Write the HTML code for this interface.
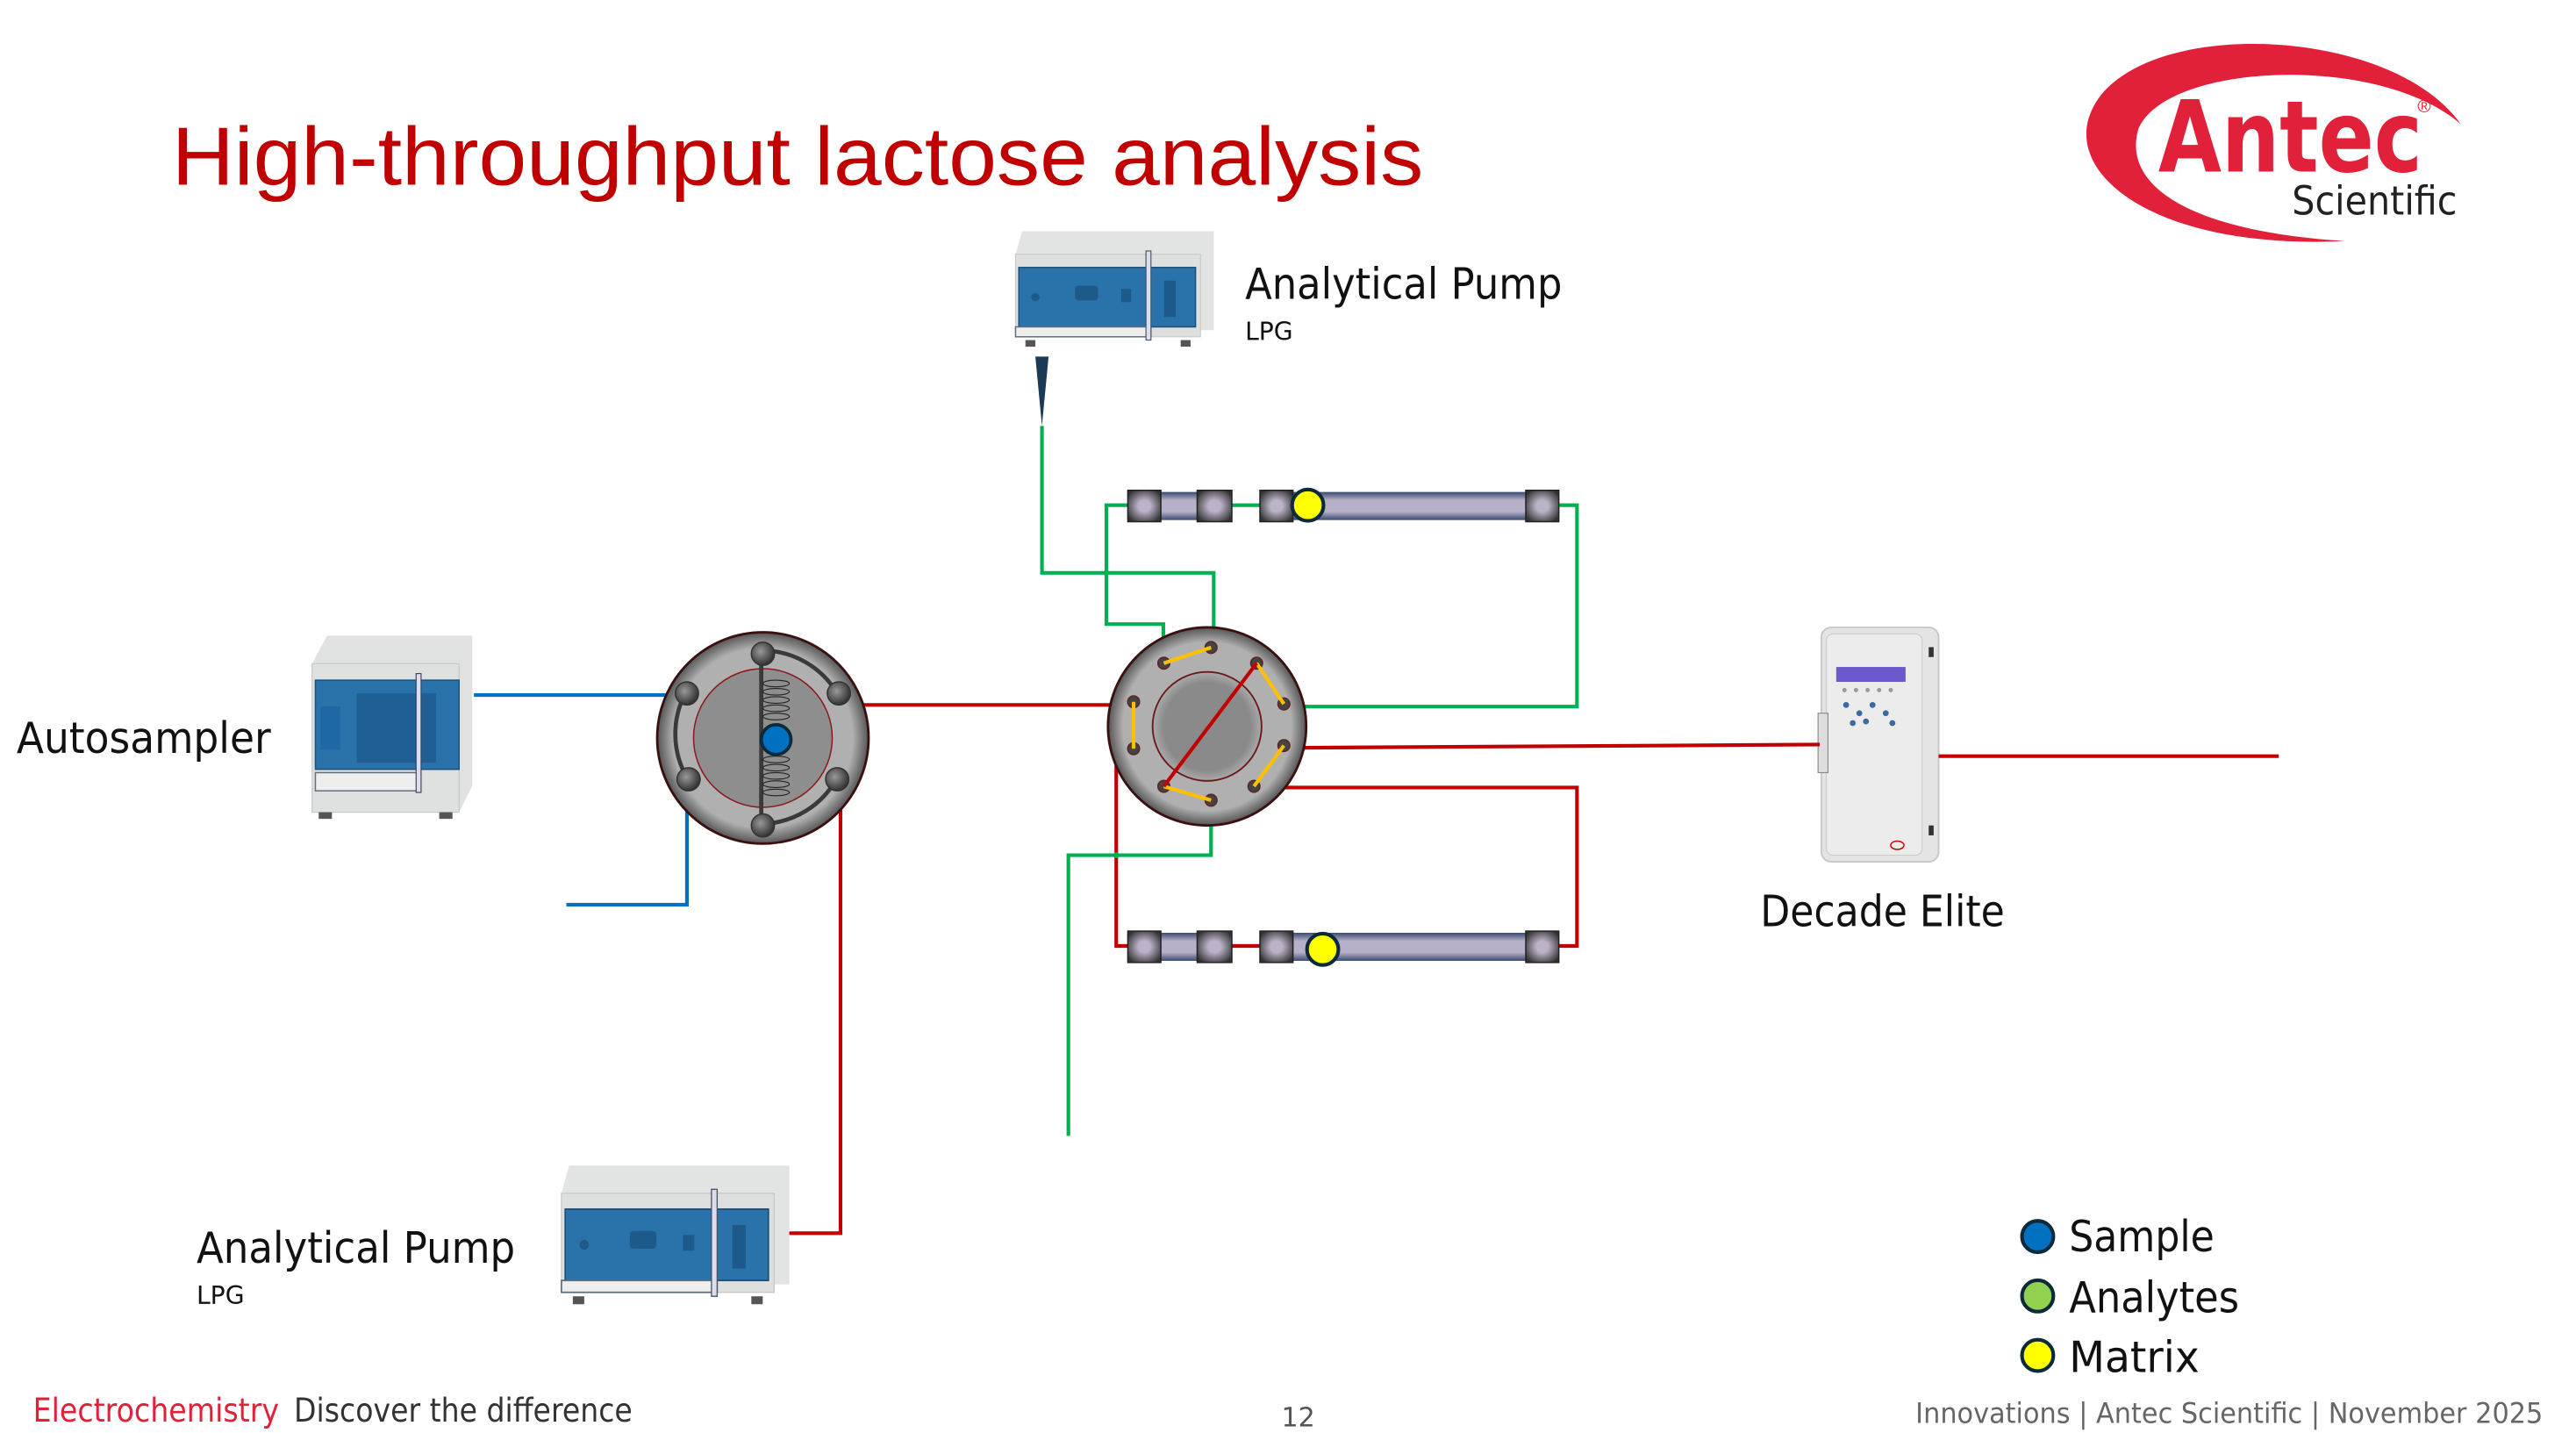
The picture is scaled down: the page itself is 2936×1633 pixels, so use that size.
<!DOCTYPE html>
<html><head><meta charset="utf-8"><style>
html,body{margin:0;padding:0;background:#fff;}
svg{display:block;font-family:"Liberation Sans",sans-serif;}
.c{font-family:"DejaVu Sans","Liberation Sans",sans-serif;}
</style></head><body>
<svg width="2936" height="1633" viewBox="0 0 1560 868" preserveAspectRatio="none" xmlns="http://www.w3.org/2000/svg">
<defs>
<radialGradient id="vg" cx="50%" cy="50%" r="50%"><stop offset="0.85" stop-color="#b0b0b0"/><stop offset="1" stop-color="#555"/></radialGradient>
<radialGradient id="ig" cx="50%" cy="50%" r="50%"><stop offset="0.8" stop-color="#8a8a8a"/><stop offset="1" stop-color="#aaa"/></radialGradient>
<linearGradient id="tg" x1="0" y1="0" x2="0" y2="1"><stop offset="0" stop-color="#3a4a70"/><stop offset="0.3" stop-color="#b8b0c8"/><stop offset="0.7" stop-color="#b8b0c8"/><stop offset="1" stop-color="#3a4a70"/></linearGradient>
<radialGradient id="bg" cx="50%" cy="50%" r="60%"><stop offset="0.3" stop-color="#bcb3c9"/><stop offset="1" stop-color="#333"/></radialGradient>
<radialGradient id="pg" cx="40%" cy="40%" r="60%"><stop offset="0" stop-color="#999"/><stop offset="1" stop-color="#333"/></radialGradient>
<g id="pump">
<polygon points="4,0 120,0 120,60 0,60 0,14" fill="#e2e3e3"/>
<rect x="0" y="14" width="112" height="50" fill="#dedfdf" stroke="#c8c8c8" stroke-width="0.6"/>
<rect x="2" y="22" width="107" height="36" fill="#2a73aa" stroke="#1d4f77" stroke-width="0.8"/>
<circle cx="12" cy="40" r="2.5" fill="#1d5a8a"/>
<rect x="36" y="33" width="14" height="9" rx="2" fill="#1d5a8a"/>
<rect x="64" y="35" width="6" height="8" fill="#1d5a8a"/>
<rect x="90" y="30" width="7" height="22" fill="#1d5a8a"/>
<rect x="0" y="58" width="82" height="6" fill="#eee" stroke="#60707a" stroke-width="0.8"/>
<rect x="79" y="12" width="3" height="54" fill="#dde" stroke="#456" stroke-width="0.6"/>
<rect x="6" y="66" width="6" height="4" fill="#555"/><rect x="100" y="66" width="6" height="4" fill="#555"/>
</g>
</defs>

<text x="104" y="112" font-size="50" fill="#c00000" textLength="758" lengthAdjust="spacingAndGlyphs">High-throughput lactose analysis</text>

<!-- Logo -->
<path d="M1490,75 C1450,18 1310,10 1272,58 C1240,100 1300,152 1420,146 C1325,140 1285,112 1295,78 C1312,38 1440,32 1490,75 Z" fill="#e1203a"/>
<text x="1307" y="104" font-size="60" font-weight="bold" fill="#e1203a" class="c" textLength="160" lengthAdjust="spacingAndGlyphs">Antec</text>
<text x="1464" y="68" font-size="11" fill="#e1203a">®</text>
<text x="1388" y="130" font-size="24" fill="#222" class="c" textLength="100" lengthAdjust="spacingAndGlyphs">Scientific</text>

<!-- top pump -->
<g transform="translate(615,140)"><use href="#pump"/></g>
<polygon points="627,216 635,216 631,258" fill="#1a3a55"/>
<text x="754" y="181" font-size="26" fill="#111" class="c" textLength="192" lengthAdjust="spacingAndGlyphs">Analytical Pump</text>
<text x="754" y="206" font-size="15" fill="#111" class="c">LPG</text>

<!-- autosampler -->
<polygon points="198,385 286,385 286,476 278,492 189,492 189,402" fill="#e0e1e1"/>
<rect x="189" y="402" width="89" height="90" fill="#dfe0e0" stroke="#c6c6c6" stroke-width="0.6"/>
<rect x="191" y="412" width="87" height="54" fill="#2a73aa" stroke="#1d4f77" stroke-width="0.8"/>
<rect x="216" y="420" width="48" height="42" fill="#1f5f94"/>
<rect x="194" y="428" width="12" height="26" fill="#1e68a3"/>
<rect x="191" y="468" width="62" height="11" fill="#eee" stroke="#60707a" stroke-width="0.8"/>
<rect x="252" y="408" width="3" height="72" fill="#dde" stroke="#345" stroke-width="0.6"/>
<rect x="193" y="492" width="8" height="4" fill="#555"/><rect x="266" y="492" width="8" height="4" fill="#555"/>
<text x="10" y="456" font-size="26" fill="#111" class="c" textLength="154" lengthAdjust="spacingAndGlyphs">Autosampler</text>

<!-- bottom pump -->
<g transform="translate(340,706) scale(1.15,1.2)"><use href="#pump"/></g>
<text x="119" y="765" font-size="26" fill="#111" class="c" textLength="193" lengthAdjust="spacingAndGlyphs">Analytical Pump</text>
<text x="119" y="790" font-size="15" fill="#111" class="c">LPG</text>

<!-- Decade -->
<rect x="1103" y="380" width="71" height="142" rx="6" fill="#e4e4e4" stroke="#c8c8c8"/>
<rect x="1106" y="384" width="58" height="134" rx="4" fill="#ececec" stroke="#ccc" stroke-width="0.6"/>
<rect x="1112" y="404" width="42" height="9" fill="#6a5acd"/>
<g fill="#3a6aa0"><circle cx="1118" cy="427" r="1.8"/><circle cx="1126" cy="432" r="1.8"/><circle cx="1134" cy="427" r="1.8"/><circle cx="1142" cy="432" r="1.8"/><circle cx="1130" cy="437" r="1.8"/><circle cx="1122" cy="438" r="1.8"/><circle cx="1146" cy="438" r="1.8"/></g>
<g fill="#999"><circle cx="1117" cy="418" r="1.3"/><circle cx="1124" cy="418" r="1.3"/><circle cx="1131" cy="418" r="1.3"/><circle cx="1138" cy="418" r="1.3"/><circle cx="1145" cy="418" r="1.3"/></g>
<rect x="1101" y="432" width="6" height="36" fill="#ddd" stroke="#888" stroke-width="0.6"/>
<rect x="1168" y="392" width="3" height="6" fill="#333"/><rect x="1168" y="500" width="3" height="6" fill="#333"/>
<ellipse cx="1149" cy="512" rx="4" ry="2.5" fill="none" stroke="#c00" stroke-width="0.8"/>
<text x="1066" y="561" font-size="26" fill="#111" class="c" textLength="148" lengthAdjust="spacingAndGlyphs">Decade Elite</text>

<!-- tubing -->
<g fill="none" stroke-width="2.2">
<polyline points="287,421 415,421" stroke="#0070c0"/>
<polyline points="416,471 416,548 343,548" stroke="#0070c0"/>
<polyline points="507,427 686.5,427" stroke="#c00000"/>
<polyline points="509,471 509,747 478,747" stroke="#c00000"/>
<polyline points="631,258 631,347 735,347 735,392" stroke="#00b050"/>
<polyline points="683,306 670,306 670,378 704.5,378 704.5,401" stroke="#00b050"/>
<polyline points="746,306 763,306" stroke="#00b050"/>
<polyline points="944,306 955,306 955,428 778,428" stroke="#00b050"/>
<polyline points="733.4,484.7 733.4,518 647,518 647,688" stroke="#00b050"/>
<polyline points="778,453 1102,451" stroke="#c00000"/>
<polyline points="1174,458 1380,458" stroke="#c00000"/>
<polyline points="759.4,477 955,477 955,573 944,573" stroke="#c00000"/>
<polyline points="686.5,453.5 676,453.5 676,573 683,573" stroke="#c00000"/>
<polyline points="746,573 763,573" stroke="#c00000"/>
</g>
<circle cx="670" cy="347" r="1.8" fill="#00b050"/>
<circle cx="676" cy="518" r="1.8" fill="#00b050"/>

<!-- columns -->
<g id="cols">
<rect x="703" y="298" width="22" height="17" fill="url(#tg)"/>
<rect x="783" y="298" width="141" height="17" fill="url(#tg)"/>
<rect x="683" y="297" width="20" height="19" fill="url(#bg)" stroke="#222" stroke-width="0.8"/>
<rect x="725" y="297" width="21" height="19" fill="url(#bg)" stroke="#222" stroke-width="0.8"/>
<rect x="763" y="297" width="20" height="19" fill="url(#bg)" stroke="#222" stroke-width="0.8"/>
<rect x="924" y="297" width="20" height="19" fill="url(#bg)" stroke="#222" stroke-width="0.8"/>
</g>
<use href="#cols" transform="translate(0,267)"/>
<circle cx="792" cy="306" r="9.5" fill="#ffff00" stroke="#0d2a3a" stroke-width="2.2"/>
<circle cx="801" cy="575" r="9.5" fill="#ffff00" stroke="#0d2a3a" stroke-width="2.2"/>

<!-- left valve -->
<ellipse cx="462" cy="447" rx="64" ry="64" fill="url(#vg)" stroke="#3a1010" stroke-width="1.5"/>
<circle cx="462" cy="447" r="42" fill="#8e8e8e" stroke="#8b1a1a" stroke-width="0.8"/>
<g fill="none" stroke="#3a3a3a" stroke-width="2.5">
<path d="M462,394 A53,53 0 0 1 507,420"/>
<path d="M507,471 A53,53 0 0 1 462,499"/>
<path d="M415,420 A53,53 0 0 0 416,471"/>
<line x1="461" y1="394" x2="461" y2="499"/>
</g>
<g fill="none" stroke="#222" stroke-width="0.6">
<ellipse cx="470" cy="414" rx="8" ry="2"/><ellipse cx="470" cy="419" rx="8" ry="2"/><ellipse cx="470" cy="424" rx="8" ry="2"/><ellipse cx="470" cy="429" rx="8" ry="2"/><ellipse cx="470" cy="434" rx="8" ry="2"/>
<ellipse cx="470" cy="460" rx="8" ry="2"/><ellipse cx="470" cy="465" rx="8" ry="2"/><ellipse cx="470" cy="470" rx="8" ry="2"/><ellipse cx="470" cy="475" rx="8" ry="2"/><ellipse cx="470" cy="480" rx="8" ry="2"/>
</g>
<g fill="url(#pg)" stroke="#333" stroke-width="0.8">
<circle cx="462" cy="396" r="7"/><circle cx="508" cy="420" r="7"/><circle cx="507" cy="472" r="7"/><circle cx="462" cy="500" r="7"/><circle cx="417" cy="472" r="7"/><circle cx="416" cy="420" r="7"/>
</g>
<circle cx="470" cy="448" r="9" fill="#0070c0" stroke="#0d2a3a" stroke-width="2"/>

<!-- center valve -->
<circle cx="731" cy="440" r="60" fill="url(#vg)" stroke="#3a1010" stroke-width="1.5"/>
<circle cx="731" cy="440" r="33" fill="url(#ig)" stroke="#6b1a1a" stroke-width="1"/>
<g fill="#444" stroke="#5a2a2a" stroke-width="1">
<circle cx="704.8" cy="401.7" r="3.5"/><circle cx="733.4" cy="392.2" r="3.5"/><circle cx="761" cy="401.7" r="3.5"/><circle cx="777.5" cy="426.4" r="3.5"/><circle cx="777.5" cy="451.6" r="3.5"/><circle cx="759.4" cy="476.3" r="3.5"/><circle cx="733.4" cy="484.7" r="3.5"/><circle cx="704.8" cy="476.3" r="3.5"/><circle cx="686.5" cy="425.1" r="3.5"/><circle cx="686.5" cy="453.5" r="3.5"/>
</g>
<g stroke="#ffc000" stroke-width="2.2">
<line x1="704.8" y1="401.7" x2="733.4" y2="392.2"/>
<line x1="761" y1="401.7" x2="777.5" y2="426.4"/>
<line x1="777.5" y1="451.6" x2="759.4" y2="476.3"/>
<line x1="704.8" y1="476.3" x2="733.4" y2="484.7"/>
<line x1="686.5" y1="425.1" x2="686.5" y2="453.5"/>
</g>
<line x1="761" y1="401.7" x2="704.8" y2="476.3" stroke="#c00000" stroke-width="2.2"/>

<!-- legend -->
<g stroke="#0d2a3a" stroke-width="2.2">
<circle cx="1234" cy="749" r="9.5" fill="#0070c0"/>
<circle cx="1234" cy="785" r="9.5" fill="#92d050"/>
<circle cx="1234" cy="821" r="9.5" fill="#ffff00"/>
</g>
<g font-size="26" fill="#111" class="c">
<text x="1253" y="758" textLength="88" lengthAdjust="spacingAndGlyphs">Sample</text>
<text x="1253" y="795" textLength="103" lengthAdjust="spacingAndGlyphs">Analytes</text>
<text x="1253" y="831" textLength="79" lengthAdjust="spacingAndGlyphs">Matrix</text>
</g>

<!-- footer -->
<text x="20" y="861" font-size="20" fill="#e1203a" class="c" textLength="149" lengthAdjust="spacingAndGlyphs">Electrochemistry</text>
<text x="178" y="861" font-size="20" fill="#333" class="c" textLength="205" lengthAdjust="spacingAndGlyphs">Discover the difference</text>
<text x="776" y="864" font-size="16" fill="#555" class="c">12</text>
<text x="1160" y="862" font-size="17" fill="#666" class="c" textLength="380" lengthAdjust="spacingAndGlyphs">Innovations | Antec Scientific | November 2025</text>
</svg>
</body></html>
